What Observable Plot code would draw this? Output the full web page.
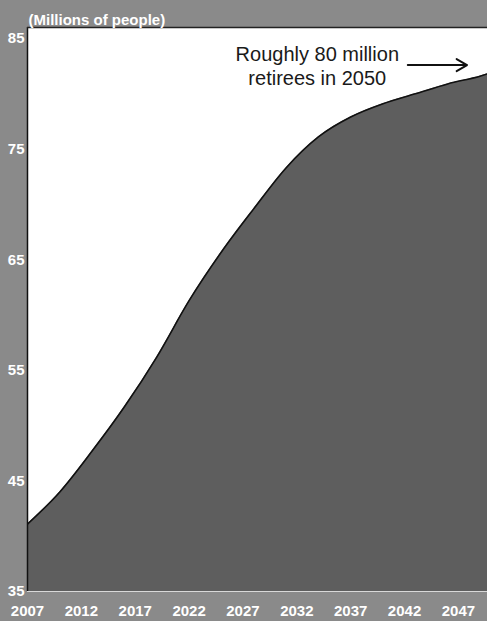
<!DOCTYPE html>
<html>
<head>
<meta charset="utf-8">
<script src="https://cdn.jsdelivr.net/npm/d3@7"></script>
<script src="https://cdn.jsdelivr.net/npm/@observablehq/plot@0.6"></script>
<style>
  html, body { margin: 0; padding: 0; background: #8a8a8a; }
  #chart { width: 487px; height: 621px; }
</style>
</head>
<body>
<div id="chart"></div>
<script>
const title = "(Millions of people)";
const years = [2007,2010,2013,2016,2019,2022,2025,2028,2031,2034,2037,2040,2043,2046,2049,2050];
const retirees = [41.1,44.0,47.7,51.7,56.2,61.3,65.7,69.6,73.3,76.1,77.9,79.1,80.0,80.9,81.6,81.9];
const xTicks = [2007,2012,2017,2022,2027,2032,2037,2042,2047];
const yTicks = [35,45,55,65,75,85];
const xDomain = [2007, 2049.7];
const yDomain = [35, 86];
const noteText = "Roughly 80 million\nretirees in 2050";
const noteYear = 2033.9;
const noteValue = 82.6;
const arrowFrom = 2042.3;
const arrowTo = 2047.8;

const data = years.map((year, i) => ({year, value: retirees[i]}));

const chart = Plot.plot({
  width: 487,
  height: 621,
  marginLeft: 27,
  marginRight: 0,
  marginTop: 27,
  marginBottom: 30,
  style: {background: "#8a8a8a", fontFamily: "'Liberation Sans', Arial, sans-serif", overflow: "visible"},
  x: {domain: xDomain},
  y: {domain: yDomain},
  marks: [
    Plot.frame({fill: "white", stroke: "none"}),
    Plot.areaY(data, {x: "year", y1: yDomain[0], y2: "value", fill: "#5e5e5e", curve: "monotone-x", clip: true}),
    Plot.line(data, {x: "year", y: "value", stroke: "#111", strokeWidth: 1.6, curve: "monotone-x", clip: true}),
    Plot.ruleX([xDomain[0]], {stroke: "#111", strokeWidth: 1.5}),
    Plot.ruleY([yDomain[1]], {stroke: "#222", strokeWidth: 1.5}),
    Plot.ruleY([yDomain[0]], {stroke: "#d8d8d8", strokeWidth: 1}),
    Plot.axisY({ticks: yTicks, tickSize: 0, tickPadding: 3, fill: "white", fontWeight: "bold", fontSize: 15, label: null}),
    Plot.axisX({ticks: xTicks, tickSize: 0, tickPadding: 14, fill: "white", fontWeight: "bold", fontSize: 15, tickFormat: d => String(d), label: null}),
    Plot.text([title], {frameAnchor: "top-left", dx: 1, dy: -13, textAnchor: "start", fill: "white", fontWeight: "bold", fontSize: 15}),
    Plot.text([noteText], {x: () => noteYear, y: () => noteValue, text: d => d, textAnchor: "middle", lineAnchor: "middle", lineHeight: 1.2, fontSize: 20, fill: "#1a1a1a"}),
    Plot.arrow([0], {x1: () => arrowFrom, x2: () => arrowTo, y1: () => noteValue, y2: () => noteValue, stroke: "#111", strokeWidth: 2, headLength: 9})
  ]
});
document.getElementById("chart").appendChild(chart);
</script>
</body>
</html>
